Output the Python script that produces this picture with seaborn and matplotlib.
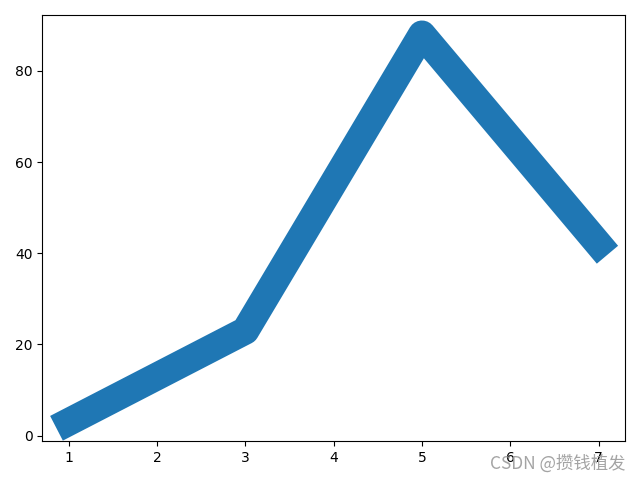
import matplotlib
matplotlib.use("Agg")
import matplotlib.pyplot as plt
import seaborn as sns
import pandas as pd

x_values = [1, 3, 5, 7]
y_values = [3, 23, 88, 42]

df = pd.DataFrame({"x": x_values, "y": y_values})

fig, ax = plt.subplots(figsize=(6.4, 4.8), dpi=100)
sns.lineplot(data=df, x="x", y="y", ax=ax, color="#1f77b4", linewidth=20,
             solid_capstyle="projecting", solid_joinstyle="round")
ax.set_xlabel("")
ax.set_ylabel("")
ax.set_xticks([1, 2, 3, 4, 5, 6, 7])
ax.set_yticks([0, 20, 40, 60, 80])
fig.tight_layout()
fig.text(0.977, 0.016, "CSDN @攒钱植发", ha="right", va="bottom", fontsize=12.5,
         color="#9a9a9a", alpha=0.9, family=["Noto Sans CJK SC", "DejaVu Sans"])
fig.savefig("out.png", dpi=100)
